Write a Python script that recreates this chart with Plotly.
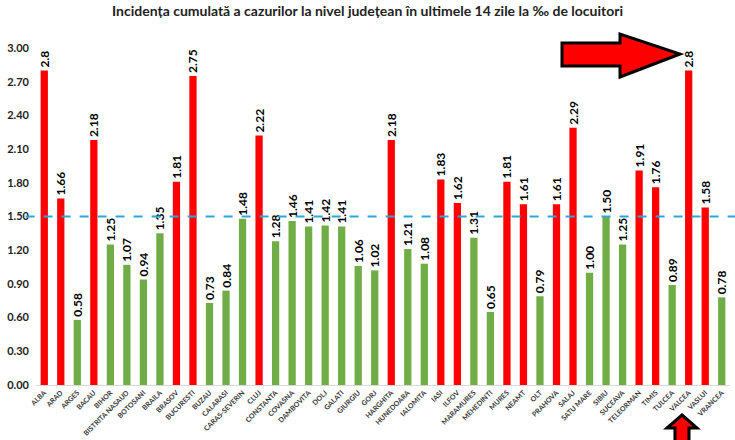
import plotly.graph_objects as go

# judete si incidenta la mia de locuitori
judete = ["ALBA", "ARAD", "ARGES", "BACAU", "BIHOR", "BISTRITA NASAUD", "BOTOSANI",
          "BRAILA", "BRASOV", "BUCURESTI", "BUZAU", "CALARASI", "CARAS-SEVERIN", "CLUJ",
          "CONSTANTA", "COVASNA", "DAMBOVITA", "DOLJ", "GALATI", "GIURGIU", "GORJ",
          "HARGHITA", "HUNEDOARA", "IALOMITA", "IASI", "ILFOV", "MARAMURES", "MEHEDINTI",
          "MURES", "NEAMT", "OLT", "PRAHOVA", "SALAJ", "SATU MARE", "SIBIU", "SUCEAVA",
          "TELEORMAN", "TIMIS", "TULCEA", "VALCEA", "VASLUI", "VRANCEA"]
incidenta = [2.8, 1.66, 0.58, 2.18, 1.25, 1.07, 0.94, 1.35, 1.81, 2.75, 0.73, 0.84,
             1.48, 2.22, 1.28, 1.46, 1.41, 1.42, 1.41, 1.06, 1.02, 2.18, 1.21, 1.08,
             1.83, 1.62, 1.31, 0.65, 1.81, 1.61, 0.79, 1.61, 2.29, 1.00, 1.50, 1.25,
             1.91, 1.76, 0.89, 2.8, 1.58, 0.78]
etichete = ["2.8", "1.66", "0.58", "2.18", "1.25", "1.07", "0.94", "1.35", "1.81", "2.75",
            "0.73", "0.84", "1.48", "2.22", "1.28", "1.46", "1.41", "1.42", "1.41", "1.06",
            "1.02", "2.18", "1.21", "1.08", "1.83", "1.62", "1.31", "0.65", "1.81", "1.61",
            "0.79", "1.61", "2.29", "1.00", "1.50", "1.25", "1.91", "1.76", "0.89", "2.8",
            "1.58", "0.78"]
prag = 1.5

ROSU = "#FF0000"
VERDE = "#70AD47"
culori = [ROSU if v > prag else VERDE for v in incidenta]

W, H = 735, 440
ML, MR, MT, MB = 36, 5, 48, 55


def px2paper(x, y):
    # pixel -> coordonate paper (pentru sageti)
    return (x - ML) / (W - ML - MR), (H - MB - y) / (H - MT - MB)


def cale(puncte):
    pts = [px2paper(x, y) for x, y in puncte]
    return "M " + " L ".join(f"{a:.4f},{b:.4f}" for a, b in pts) + " Z"


fig = go.Figure()
fig.add_trace(go.Bar(
    x=judete, y=incidenta, marker_color=culori, marker_line_width=0,
    text=etichete, textposition="outside", textangle=-90, constraintext="none",
    textfont=dict(family="Lato", size=12, color="black", weight="bold"),
    cliponaxis=False, hoverinfo="skip",
))

# linia de prag
fig.add_shape(type="line", xref="paper", yref="y", x0=-0.015, x1=1.01, y0=prag, y1=prag,
              line=dict(color="#2AA6DD", width=2, dash="dash"))

# sageata mare spre dreapta
fig.add_shape(type="path", xref="paper", yref="paper",
              path=cale([(562, 43), (620, 43), (620, 34), (680, 54), (620, 77), (620, 66), (562, 66)]),
              fillcolor=ROSU, line=dict(color="black", width=3))
# sageata mica in sus (VALCEA)
fig.add_shape(type="path", xref="paper", yref="paper",
              path=cale([(682, 415), (697, 428), (689, 428), (689, 445), (675, 445), (675, 428), (667, 428)]),
              fillcolor=ROSU, line=dict(color="black", width=3))

fig.update_layout(
    width=W, height=H,
    margin=dict(l=ML, r=MR, t=MT, b=MB, autoexpand=False),
    paper_bgcolor="white", plot_bgcolor="white",
    bargap=0.56, showlegend=False, hovermode=False,
    title=dict(text="Incidența cumulată a cazurilor la nivel județean în ultimele 14 zile la ‰ de locuitori",
               x=0.5, xanchor="center", y=0.985, yanchor="top",
               font=dict(family="Lato", size=14, color="#222", weight="bold")),
    font=dict(family="Lato"),
)
fig.update_xaxes(tickangle=-45, tickfont=dict(size=7, color="#333", weight="bold"), automargin=False,
                 showline=True, linecolor="#D9D9D9", linewidth=1, ticks="", showgrid=False)
fig.update_yaxes(range=[0, 3.0], dtick=0.3, tickformat=".2f", showgrid=False, zeroline=False,
                 automargin=False, tickfont=dict(size=11, color="#222", weight="bold"), ticks="",
                 ticklabelstandoff=6)

# fara marginea implicita a paginii, ca figura sa inceapa din colt
fig.write_html("out.html", config={"displayModeBar": False},
               post_script="document.body.style.margin='0';")
